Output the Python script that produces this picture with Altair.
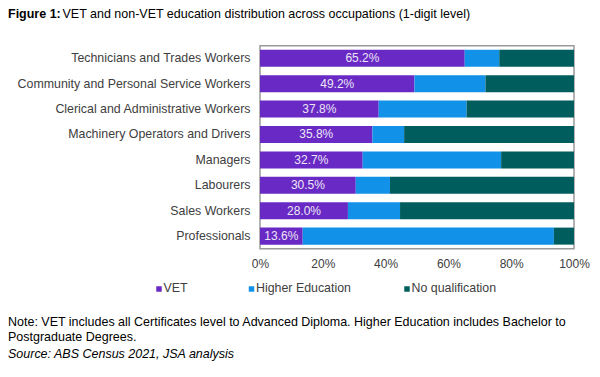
import altair as alt
import pandas as pd

categories = [
    "Technicians and Trades Workers",
    "Community and Personal Service Workers",
    "Clerical and Administrative Workers",
    "Machinery Operators and Drivers",
    "Managers",
    "Labourers",
    "Sales Workers",
    "Professionals",
]
vet = [65.2, 49.2, 37.8, 35.8, 32.7, 30.5, 28.0, 13.6]
higher_ed = [11.0, 22.6, 28.0, 10.1, 44.1, 10.9, 16.6, 80.0]
no_qual = [23.8, 28.2, 34.2, 54.1, 23.2, 58.6, 55.4, 6.4]

series = ["VET", "Higher Education", "No qualification"]
colors = ["#6929c4", "#1192e8", "#005d5d"]
x_ticks = [0, 0.2, 0.4, 0.6, 0.8, 1.0]

title_bold = "Figure 1:"
title_rest = "VET and non-VET education distribution across occupations (1-digit level)"
note_1 = "Note: VET includes all Certificates level to Advanced Diploma. Higher Education includes Bachelor to"
note_2 = "Postgraduate Degrees."
source = "Source: ABS Census 2021, JSA analysis"

FONT = "Liberation Sans"

rows = []
for i, c in enumerate(categories):
    for j, (s, vals) in enumerate(zip(series, [vet, higher_ed, no_qual])):
        rows.append({"occupation": c, "series": s, "order": j, "value": vals[i] / 100})
df = pd.DataFrame(rows)

label_df = pd.DataFrame({
    "occupation": categories,
    "mid": [v / 200 for v in vet],
    "label": [f"{v:.1f}%" for v in vet],
})

y_enc = alt.Y(
    "occupation:N",
    sort=categories,
    title=None,
    scale=alt.Scale(paddingInner=0.33, paddingOuter=0.16),
    axis=alt.Axis(domain=False, ticks=False, labelPadding=10, labelFont=FONT,
                  labelFontSize=12.4, labelColor="#404040", labelLimit=300),
)

bars = alt.Chart(df).mark_bar().encode(
    x=alt.X("value:Q", stack="zero", title=None,
            scale=alt.Scale(domain=[0, 1], nice=False),
            axis=alt.Axis(values=x_ticks, format=".0%", domain=False, ticks=False,
                          grid=False, labelPadding=10, labelFlush=False, labelFont=FONT,
                          labelFontSize=12, labelColor="#404040")),
    y=y_enc,
    color=alt.Color("series:N", scale=alt.Scale(domain=series, range=colors), legend=None),
    order=alt.Order("order:Q"),
)

labels = alt.Chart(label_df).mark_text(
    font=FONT, fontSize=12, color="#ece6f7", baseline="middle", align="center"
).encode(
    x=alt.X("mid:Q"),
    y=alt.Y("occupation:N", sort=categories),
    text="label:N",
)


def txt(s, x, y, **kw):
    opts = dict(align="left", baseline="alphabetic", font=FONT, fontSize=12.5, color="#000000")
    opts.update(kw)
    return alt.Chart(pd.DataFrame({"t": [s]})).mark_text(**opts).encode(
        x=alt.value(x), y=alt.value(y), text="t:N"
    )


oy = 45.7
ox = 260
texts = [
    txt(title_bold, -252, 18.5 - oy, fontWeight="bold"),
    txt(title_rest, -252 + 54.5, 18.5 - oy),
    txt(note_1, -252, 326.5 - oy),
    txt(note_2, -252, 341 - oy),
    txt(source, -252, 358.5 - oy, fontStyle="italic"),
]

# legend (horizontal, below the plot), placed like the original's
legend_symbol_x = [159, 251.5, 407]
legend_y = 289
legend_layers = []
for name, col, sx in zip(series, colors, legend_symbol_x):
    legend_layers.append(
        alt.Chart(pd.DataFrame({"t": [name]})).mark_square(size=30, color=col, opacity=1).encode(
            x=alt.value(sx - ox), y=alt.value(legend_y - oy)
        )
    )
    legend_layers.append(
        alt.Chart(pd.DataFrame({"t": [name]})).mark_text(
            align="left", baseline="middle", font=FONT, fontSize=12.4, color="#404040"
        ).encode(x=alt.value(sx + 4.5 - ox), y=alt.value(legend_y - 0.5 - oy), text="t:N")
    )

chart = alt.layer(bars, labels, *texts, *legend_layers).properties(
    width=314,
    height=203,
    padding={"left": 252, "top": 37.7, "right": 16, "bottom": 112},
    autosize=alt.AutoSizeParams(type="none"),
).configure_view(stroke="#9a9a9a", strokeWidth=1.5)

chart.save("out.html", embed_options={"renderer": "svg", "actions": False})
